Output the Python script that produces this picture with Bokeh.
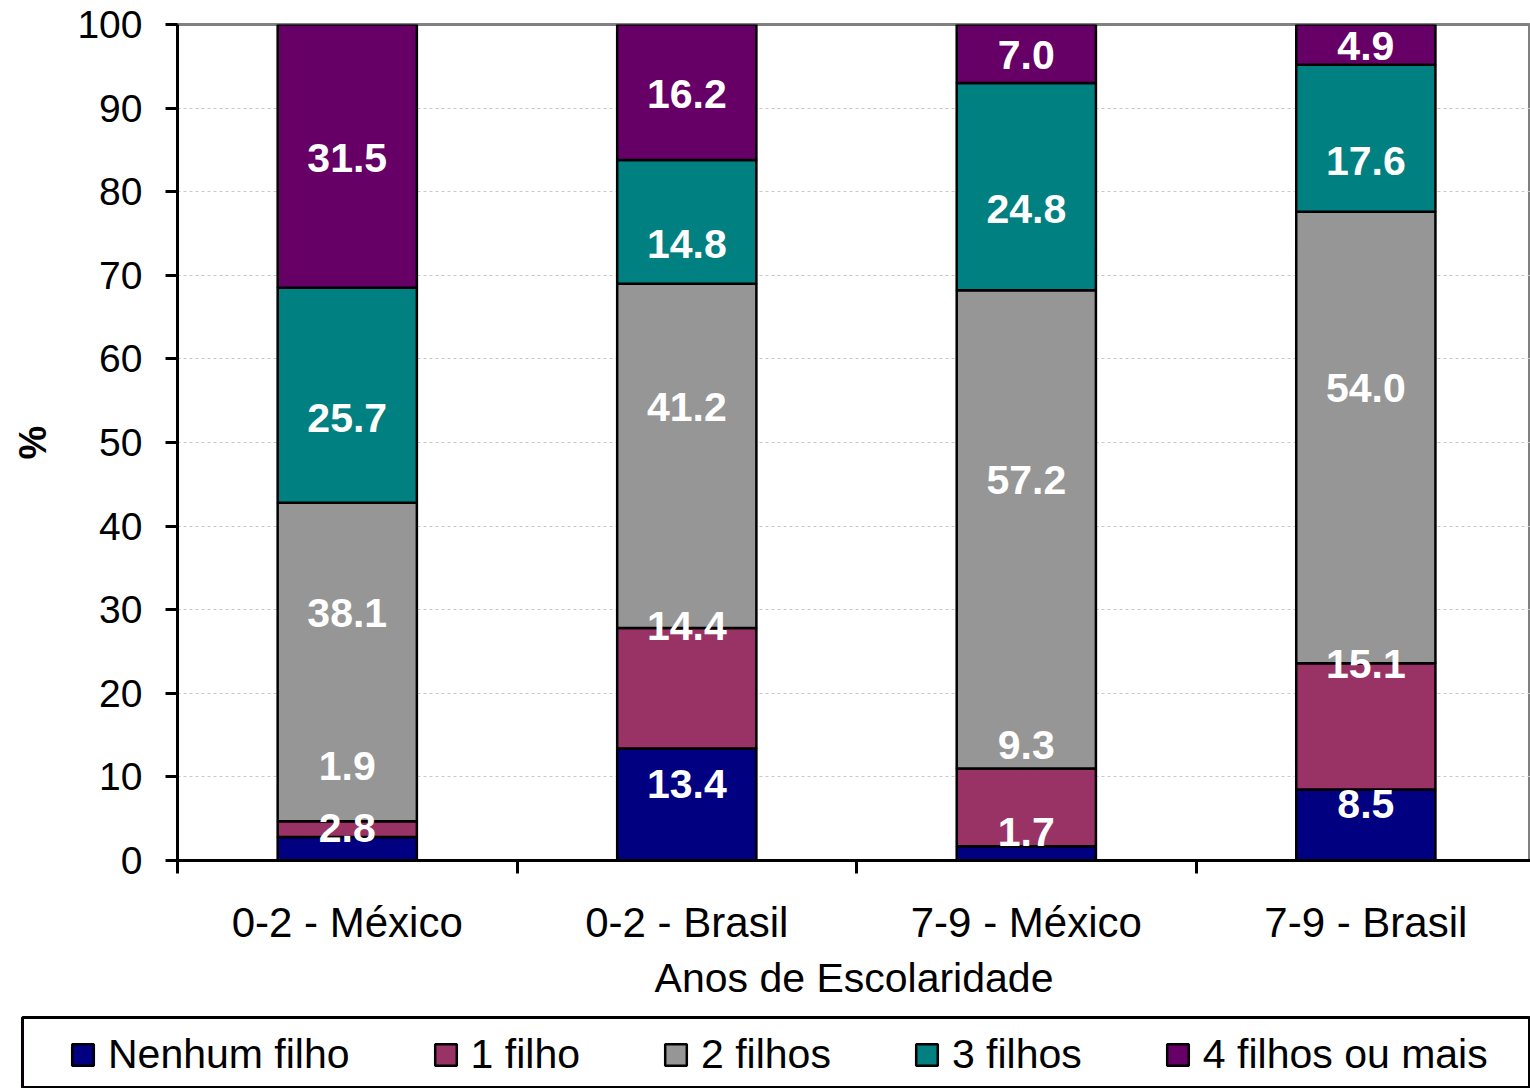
from bokeh.plotting import figure
from bokeh.layouts import column
from bokeh.models import ColumnDataSource, FixedTicker, Legend, LegendItem, Range1d
from bokeh.core.properties import value
from bokeh.embed import file_html
from bokeh.resources import INLINE

# ---------------- data ----------------
categories = ["0-2 - México", "0-2 - Brasil", "7-9 - México", "7-9 - Brasil"]
series_names = ["Nenhum filho", "1 filho", "2 filhos", "3 filhos", "4 filhos ou mais"]
nenhum_filho = [2.8, 13.4, 1.7, 8.5]
um_filho = [1.9, 14.4, 9.3, 15.1]
dois_filhos = [38.1, 41.2, 57.2, 54.0]
tres_filhos = [25.7, 14.8, 24.8, 17.6]
quatro_ou_mais = [31.5, 16.2, 7.0, 4.9]
y_ticks = list(range(0, 101, 10))
x_title = "Anos de Escolaridade"
y_title = "%"

# ---------------- style ----------------
series_values = [nenhum_filho, um_filho, dois_filhos, tres_filhos, quatro_ou_mais]
colors = ["#000080", "#993366", "#969696", "#008080", "#660066"]
label_shift = [2.5, 7.5, 5.9, -2.7, -0.2]   # label nudges (data units) per series
FONT = "Liberation Sans"

xs = [i + 0.5 for i in range(len(categories))]
keys = [f"s{i}" for i in range(len(series_names))]
data = {"x": xs}
for k, v in zip(keys, series_values):
    data[k] = v
src = ColumnDataSource(data)

p = figure(width=1530, height=1010,
           x_range=Range1d(0, 3.985), y_range=Range1d(0, 100),
           output_backend="svg", toolbar_location=None,
           min_border_left=177, min_border_right=0, min_border_top=24, min_border_bottom=150)
p.background_fill_color = "white"
p.border_fill_color = "white"
p.outline_line_color = "#808080"
p.outline_line_width = 3

renderers = p.vbar_stack(keys, x="x", width=0.41, source=src,
                         fill_color=colors, line_color="black", line_width=2.5)

# data labels
lx, ly, lt = [], [], []
for j in range(len(categories)):
    bottom = 0.0
    for i, vals in enumerate(series_values):
        v = vals[j]
        lx.append(xs[j])
        ly.append(bottom + v / 2 + label_shift[i])
        lt.append(f"{v:.1f}")
        bottom += v
lsrc = ColumnDataSource(dict(x=lx, y=ly, t=lt))
p.text(x="x", y="y", text="t", source=lsrc, text_color="white",
       text_font=value(FONT), text_font_style="bold", text_font_size="41px",
       text_align="center", text_baseline="middle")

# y axis
ya = p.yaxis[0]
ya.ticker = FixedTicker(ticks=y_ticks, minor_ticks=[])
ya.axis_line_color = "black"
ya.axis_line_width = 3
ya.major_tick_line_color = "black"
ya.major_tick_line_width = 3
ya.major_tick_out = 12
ya.major_tick_in = 0
ya.major_label_standoff = 23
ya.major_label_text_font = FONT
ya.major_label_text_font_size = "39px"
ya.major_label_text_color = "black"
ya.axis_label = y_title
ya.axis_label_text_font = FONT
ya.axis_label_text_font_style = "bold"
ya.axis_label_text_font_size = "38px"
ya.axis_label_text_color = "black"
ya.axis_label_standoff = 20

# x axis
xa = p.xaxis[0]
xa.ticker = FixedTicker(ticks=xs, minor_ticks=list(range(len(categories) + 1)))
xa.major_label_overrides = {x: c for x, c in zip(xs, categories)}
xa.axis_line_color = "black"
xa.axis_line_width = 3
xa.major_tick_line_color = None
xa.major_tick_out = 13
xa.major_tick_in = 0
xa.minor_tick_line_color = "black"
xa.minor_tick_line_width = 3
xa.minor_tick_out = 13
xa.minor_tick_in = 0
xa.major_label_standoff = 25
xa.major_label_text_font = FONT
xa.major_label_text_font_size = "42px"
xa.major_label_text_color = "black"
xa.axis_label = x_title
xa.axis_label_text_font = FONT
xa.axis_label_text_font_style = "normal"
xa.axis_label_text_font_size = "41px"
xa.axis_label_text_color = "black"
xa.axis_label_standoff = 6

p.xgrid.visible = False
p.ygrid.ticker = FixedTicker(ticks=y_ticks, minor_ticks=[])
p.ygrid.grid_line_color = "#c8c8c8"
p.ygrid.grid_line_dash = "3 3"
p.ygrid.grid_line_width = 1

# ---------------- legend strip (separate figure below) ----------------
# x range lies away from the bars, so the proxy renderers only feed the legend
lf = figure(width=1530, height=78, x_range=Range1d(10, 11), y_range=Range1d(0, 1),
            output_backend="svg", toolbar_location=None,
            x_axis_location=None, y_axis_location=None,
            min_border_left=22, min_border_right=0, min_border_top=7, min_border_bottom=0)
lf.xgrid.visible = False
lf.ygrid.visible = False
lf.background_fill_color = "white"
lf.border_fill_color = "white"
lf.outline_line_color = "black"
lf.outline_line_width = 3
for plot in (p, lf):
    if "frame_align" in plot.properties():
        plot.frame_align = False

legend_renderers = [lf.vbar(x="x", top=k, width=0.41, source=src, fill_color=c,
                            line_color="black", line_width=2.5)
                    for k, c in zip(keys, colors)]
legend = Legend(items=[LegendItem(label=s, renderers=[r])
                       for s, r in zip(series_names, legend_renderers)],
                orientation="horizontal", location=(47, 10),
                glyph_width=27, glyph_height=27, label_standoff=12, spacing=82,
                padding=0, margin=0,
                border_line_color=None, background_fill_alpha=0,
                label_text_font=FONT, label_text_font_size="41px",
                label_text_color="black")
lf.add_layout(legend, "center")

layout = column(p, lf, spacing=0)
open("out.html", "w").write(file_html(layout, INLINE))
